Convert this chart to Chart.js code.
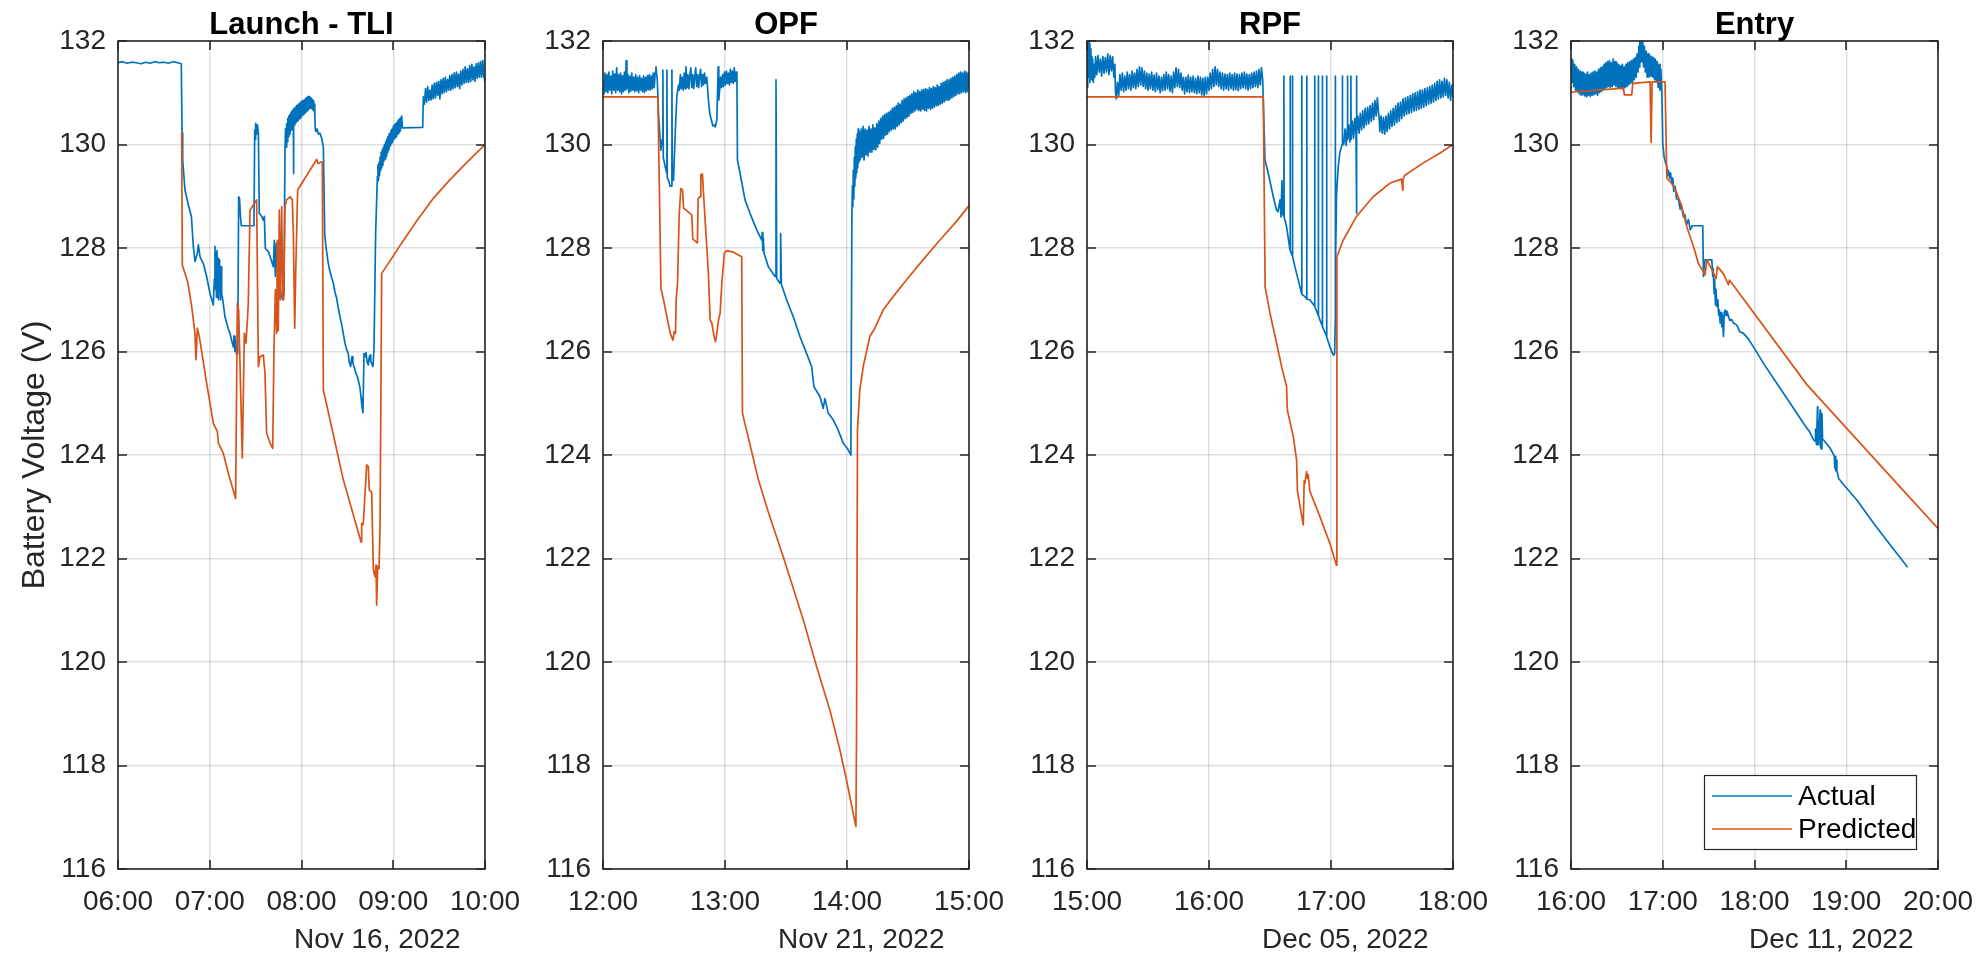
<!DOCTYPE html>
<html><head><meta charset="utf-8">
<script src="https://cdn.jsdelivr.net/npm/chart.js@4.4.1/dist/chart.umd.min.js"></script>
<style>
html,body{margin:0;padding:0;background:#fff;width:1988px;height:956px;overflow:hidden;position:relative;}
canvas{position:absolute;top:0;}
</style></head><body>
<canvas id="c0"></canvas><canvas id="c1"></canvas><canvas id="c2"></canvas><canvas id="c3"></canvas>
<script>
// ---------------- data ----------------
const panelTitles = ['Launch - TLI', 'OPF', 'RPF', 'Entry'];
const panelDates = ['Nov 16, 2022', 'Nov 21, 2022', 'Dec 05, 2022', 'Dec 11, 2022'];
const seriesNames = ['Actual', 'Predicted'];
const hourTicks = [[6,7,8,9,10],[12,13,14,15],[15,16,17,18],[16,17,18,19,20]];
const hourTickLabels = [
  ['06:00','07:00','08:00','09:00','10:00'],
  ['12:00','13:00','14:00','15:00'],
  ['15:00','16:00','17:00','18:00'],
  ['16:00','17:00','18:00','19:00','20:00']
];
const voltTicks = [116,118,120,122,124,126,128,130,132];

// [hour of day, volts]
const launchActual = [[6.00,131.58],[6.05,131.60],[6.10,131.57],[6.15,131.59],[6.20,131.58],[6.25,131.56],[6.30,131.59],[6.35,131.57],[6.40,131.60],[6.45,131.58],[6.50,131.59],[6.55,131.57],[6.60,131.60],[6.65,131.58],[6.69,131.56],
[6.698,130.22],[6.705,129.70],[6.73,129.12],[6.767,128.83],[6.80,128.61],[6.821,128.03],[6.839,127.74],[6.865,127.90],[6.876,128.06],[6.894,127.83],[6.93,127.70],[6.966,127.45],[7.003,127.12],[7.039,126.90],
[7.05,127.4],[7.057,128.03],[7.062,127.2],[7.068,127.9],[7.073,127.05],[7.079,127.95],[7.085,127.1],[7.090,127.8],[7.096,127.0],[7.101,127.77],[7.107,127.15],[7.112,127.6],[7.118,127.0],[7.123,127.64],[7.13,127.1],[7.137,127.06],
[7.166,126.67],[7.20,126.45],[7.221,126.35],[7.24,126.2],[7.257,126.09],[7.265,126.3],[7.275,126.0],[7.283,126.2],[7.293,125.93],[7.305,125.96],[7.315,128.99],[7.325,128.95],[7.335,128.6],[7.344,128.43],[7.482,128.43],[7.49,130.28],[7.495,130.1],[7.50,130.41],[7.51,130.2],[7.519,130.38],[7.53,130.22],[7.54,128.67],[7.566,128.61],[7.584,128.54],[7.595,128.61],[7.606,127.99],[7.639,127.93],[7.664,127.80],[7.693,127.64],[7.704,128.15],[7.715,127.45],[7.726,128.09],[7.74,127.51],[7.759,127.32],[7.777,127.12],[7.795,127.00],[7.809,127.12],
[7.82,129.89],[7.826,130.3],[7.832,129.95],[7.838,130.4],[7.844,130.05],[7.85,130.5],[7.856,130.15],[7.862,130.55],[7.868,130.2],[7.874,130.58],[7.88,130.25],[7.886,130.62],[7.892,130.28],[7.898,130.65],[7.904,130.3],[7.91,130.68],[7.913,129.44],[7.916,130.35],[7.922,130.7],[7.928,130.38],[7.934,130.72],[7.94,130.42],[7.946,130.75],[7.952,130.45],[7.958,130.76],[7.964,130.48],[7.97,130.78],[7.976,130.5],[7.982,130.8],[7.988,130.52],[7.994,130.82],[8.0,130.55],[8.006,130.84],[8.012,130.56],[8.018,130.85],[8.024,130.58],[8.03,130.86],[8.036,130.6],[8.042,130.88],[8.048,130.62],[8.054,130.9],[8.06,130.65],[8.066,130.92],[8.072,130.68],[8.078,130.93],[8.084,130.7],[8.09,130.92],[8.096,130.72],[8.102,130.9],[8.108,130.7],[8.114,130.88],[8.12,130.68],[8.126,130.85],[8.132,130.65],[8.138,130.78],[8.145,130.55],[8.151,130.28],[8.16,130.25],[8.17,130.3],[8.184,130.2],[8.20,130.22],[8.22,130.12],[8.238,129.96],
[8.253,128.28],[8.265,128.05],[8.28,127.85],[8.292,127.70],[8.31,127.55],[8.33,127.42],[8.347,127.32],[8.365,127.15],[8.383,127.03],[8.40,126.85],[8.42,126.67],[8.44,126.5],[8.455,126.35],[8.474,126.16],[8.49,126.05],[8.51,125.96],[8.52,125.8],[8.536,125.71],[8.545,125.85],[8.551,125.90],[8.56,125.78],[8.572,125.71],[8.59,125.6],[8.609,125.51],[8.625,125.4],[8.638,125.29],[8.65,125.1],[8.659,124.93],[8.67,124.82],[8.681,125.96],[8.69,125.9],[8.703,125.98],[8.715,125.8],[8.728,125.74],[8.737,125.88],[8.747,125.93],[8.755,125.8],[8.765,125.77],[8.779,125.71],[8.79,126.03],[8.808,128.28],
[8.827,129.38],[8.833,129.6],[8.839,129.3],[8.845,129.65],[8.851,129.4],[8.857,129.75],[8.863,129.5],[8.869,129.85],[8.875,129.55],[8.881,129.9],[8.887,129.6],[8.893,129.95],[8.899,129.68],[8.905,130.0],[8.911,129.72],[8.917,130.05],[8.923,129.78],[8.929,130.1],[8.935,129.85],[8.941,130.15],[8.947,129.9],[8.953,130.2],[8.959,129.95],[8.965,130.22],[8.971,129.98],[8.977,130.28],[8.983,130.02],[8.989,130.3],[8.995,130.05],[9.001,130.35],[9.007,130.1],[9.013,130.38],[9.019,130.12],[9.025,130.4],[9.031,130.15],[9.037,130.42],[9.043,130.2],[9.049,130.45],[9.055,130.22],[9.061,130.48],[9.067,130.25],[9.073,130.5],[9.079,130.28],[9.085,130.52],[9.092,130.55],[9.100,130.32],[9.321,130.33],
[9.328,130.92],[9.34,130.78],[9.352,131.08],[9.364,130.82],[9.376,131.12],[9.388,130.85],[9.40,131.05],[9.412,130.86],[9.424,131.15],[9.436,130.88],[9.448,131.18],[9.46,130.9],[9.472,131.2],[9.484,130.95],[9.496,131.22],[9.508,130.88],[9.52,131.25],[9.532,130.98],[9.544,131.28],[9.556,131.0],[9.568,131.3],[9.58,131.02],[9.592,131.26],[9.604,131.05],[9.616,131.33],[9.628,131.05],[9.64,131.35],[9.652,131.08],[9.664,131.38],[9.676,131.1],[9.688,131.4],[9.70,131.12],[9.712,131.36],[9.724,131.08],[9.736,131.42],[9.748,131.15],[9.76,131.45],[9.772,131.18],[9.784,131.5],[9.796,131.2],[9.808,131.46],[9.82,131.2],[9.832,131.52],[9.844,131.22],[9.856,131.55],[9.868,131.25],[9.88,131.5],[9.892,131.22],[9.904,131.56],[9.916,131.28],[9.928,131.58],[9.94,131.3],[9.952,131.6],[9.964,131.3],[9.976,131.62],[9.988,131.32],[10.0,131.2]];

const launchPredicted = [[6.694,130.23],[6.701,127.67],[6.759,127.35],[6.803,126.87],[6.839,126.35],[6.850,125.84],[6.865,126.45],[6.886,126.29],[6.966,125.39],[7.039,124.61],[7.083,124.45],[7.094,124.23],[7.148,124.03],[7.21,123.6],[7.282,123.16],[7.301,126.93],[7.315,126.8],[7.355,123.94],[7.377,126.35],[7.395,126.16],[7.41,126.6],[7.42,126.93],[7.439,128.73],[7.511,128.93],[7.53,125.71],[7.548,125.9],[7.584,125.93],[7.602,125.58],[7.62,124.42],[7.657,124.23],[7.686,124.13],[7.70,126.03],[7.715,127.19],[7.729,126.35],[7.737,128.15],[7.747,126.4],[7.758,128.73],[7.769,127.0],[7.784,128.8],[7.795,127.06],[7.806,127.0],[7.82,128.8],[7.838,128.93],[7.875,128.99],[7.9,128.93],[7.911,128.3],[7.926,126.45],[7.936,127.45],[7.958,129.12],[8.165,129.71],[8.183,129.63],[8.209,129.66],[8.227,129.66],[8.238,125.26],[8.456,123.52],[8.649,122.32],[8.656,122.68],[8.667,122.65],[8.674,122.68],[8.71,123.81],[8.728,123.78],[8.739,123.32],[8.765,123.28],[8.783,121.78],[8.801,121.65],[8.812,121.87],[8.819,121.10],[8.830,121.84],[8.845,121.80],[8.856,122.6],[8.874,127.51],[8.983,127.80],[9.074,128.05],[9.255,128.52],[9.437,128.96],[9.619,129.32],[9.80,129.65],[10.0,130.0]];

const opfActual = [[12.000,131.25],[12.008,130.98],[12.016,131.38],[12.024,131.02],[12.032,131.35],[12.04,131.0],[12.048,131.4],[12.056,131.05],[12.064,131.32],[12.072,130.98],[12.08,131.42],[12.088,131.05],[12.096,131.36],[12.104,131.0],[12.112,131.48],[12.12,131.05],[12.128,131.35],[12.136,131.02],[12.144,131.38],[12.152,130.98],[12.16,131.33],[12.168,131.02],[12.176,131.4],[12.184,131.05],[12.19,131.62],[12.196,131.08],[12.204,131.35],[12.212,131.0],[12.22,131.32],[12.228,131.03],[12.236,131.38],[12.244,131.05],[12.252,131.3],[12.26,131.02],[12.268,131.35],[12.276,131.04],[12.284,131.3],[12.292,131.0],[12.30,131.33],[12.308,131.05],[12.316,131.28],[12.324,131.02],[12.332,131.32],[12.34,131.0],[12.348,131.3],[12.356,131.04],[12.364,131.33],[12.372,131.06],[12.38,131.35],[12.388,131.05],[12.396,131.32],[12.404,131.08],[12.412,131.38],[12.42,131.1],[12.428,131.4],
[12.434,131.5],[12.445,131.25],[12.455,130.6],[12.474,129.89],[12.485,130.1],[12.491,131.44],[12.494,129.75],[12.51,129.57],[12.522,129.45],[12.524,131.44],[12.527,129.35],[12.537,129.31],[12.551,129.19],[12.562,129.2],[12.565,131.44],[12.568,129.3],[12.578,129.31],[12.592,130.22],[12.605,130.92],[12.619,131.15],
[12.626,131.05],[12.634,131.35],[12.642,131.08],[12.65,131.3],[12.658,131.05],[12.666,131.38],[12.674,131.08],[12.68,131.5],[12.688,131.1],[12.696,131.35],[12.704,131.08],[12.712,131.32],[12.72,131.48],[12.728,131.1],[12.736,131.35],[12.744,131.08],[12.752,131.3],[12.76,131.48],[12.768,131.12],[12.776,131.35],[12.784,131.1],[12.792,131.32],[12.80,131.45],[12.808,131.12],[12.816,131.35],[12.824,131.15],[12.832,131.38],[12.84,131.18],[12.851,131.3],
[12.864,130.86],[12.875,130.6],[12.892,130.44],[12.90,130.36],[12.911,130.38],[12.92,130.34],[12.933,130.47],[12.944,131.5],[12.949,130.86],
[12.956,131.05],[12.964,131.3],[12.972,131.1],[12.98,131.35],[12.988,131.12],[12.996,131.4],[13.004,131.15],[13.012,131.42],[13.02,131.18],[13.028,131.38],[13.036,131.15],[13.044,131.45],[13.052,131.2],[13.06,131.42],[13.068,131.18],[13.076,131.48],[13.084,131.22],[13.092,131.4],[13.098,131.2],[13.102,129.70],
[13.124,129.44],[13.164,128.93],[13.205,128.67],[13.26,128.35],[13.301,128.15],[13.305,128.3],[13.31,127.95],[13.314,128.2],[13.32,127.9],[13.355,127.64],[13.41,127.45],[13.418,131.25],[13.424,127.41],[13.451,127.32],[13.456,128.28],[13.462,127.3],[13.505,127.0],[13.56,126.67],[13.614,126.29],[13.669,125.96],[13.71,125.71],[13.72,125.5],[13.729,125.32],[13.778,125.13],[13.805,124.90],[13.819,125.09],[13.846,124.81],[13.887,124.68],[13.928,124.48],[13.969,124.23],[14.01,124.10],[14.032,124.0],
[14.040,128.61],[14.044,129.2],[14.048,128.8],[14.052,129.5],[14.056,128.95],[14.06,129.75],[14.064,129.2],[14.068,129.95],[14.072,129.35],[14.076,130.1],[14.08,129.45],[14.084,130.2],[14.088,129.55],[14.092,130.3],[14.096,129.65],[14.10,130.25],[14.108,129.7],[14.116,130.3],[14.124,129.75],[14.132,130.35],[14.14,129.7],[14.148,130.3],[14.156,129.8],[14.164,130.28],[14.172,129.78],[14.18,130.35],[14.188,129.85],[14.196,130.3],[14.204,129.85],[14.212,130.38],[14.22,129.9],[14.228,130.32],[14.236,129.9],[14.244,130.4],[14.252,129.95],[14.26,130.45],[14.268,130.02],[14.276,130.5],[14.284,130.1],[14.292,130.55],[14.30,130.12],[14.308,130.58],[14.316,130.18],[14.324,130.6],[14.332,130.2],[14.34,130.62],[14.348,130.25],[14.356,130.65],[14.364,130.28],[14.372,130.7],[14.38,130.3],[14.388,130.72],[14.396,130.3],[14.404,130.75],[14.412,130.35],[14.42,130.8],[14.428,130.38],[14.436,130.78],[14.444,130.42],[14.452,130.85],[14.46,130.45],[14.468,130.88],[14.476,130.5],[14.484,130.9],[14.492,130.52],[14.50,130.92],[14.508,130.55],[14.516,130.95],[14.524,130.6],[14.532,130.98],[14.54,130.62],[14.548,131.02],[14.556,130.65],[14.564,131.0],[14.572,130.68],[14.58,131.05],[14.588,130.66],[14.596,131.02],[14.604,130.65],[14.612,131.05],[14.62,130.68],[14.628,131.06],[14.636,130.66],[14.644,131.08],[14.652,130.65],[14.66,131.06],[14.668,130.7],[14.676,131.1],[14.684,130.68],[14.692,131.08],[14.70,130.7],[14.708,131.12],[14.716,130.72],[14.724,131.1],[14.732,130.75],[14.74,131.15],[14.748,130.75],[14.756,131.12],[14.764,130.78],[14.772,131.18],[14.78,130.8],[14.788,131.2],[14.796,130.82],[14.804,131.22],[14.812,130.85],[14.82,131.25],[14.828,130.86],[14.836,131.25],[14.844,130.88],[14.852,131.28],[14.86,130.9],[14.868,131.3],[14.876,130.93],[14.884,131.32],[14.892,130.95],[14.90,131.35],[14.908,130.98],[14.916,131.38],[14.924,130.98],[14.932,131.4],[14.94,131.0],[14.948,131.38],[14.956,131.02],[14.964,131.42],[14.972,131.0],[14.98,131.4],[14.988,131.02],[14.996,131.38],[15.0,131.1]];

const opfPredicted = [[12.0,130.92],[12.45,130.92],[12.475,127.22],[12.496,127.0],[12.551,126.35],[12.573,126.22],[12.584,126.38],[12.594,126.35],[12.60,127.0],[12.611,127.32],[12.624,128.61],[12.638,129.15],[12.652,129.12],[12.66,128.77],[12.728,128.64],[12.736,128.17],[12.774,128.10],[12.78,128.96],[12.796,128.99],[12.802,129.41],[12.815,129.43],[12.824,129.05],[12.837,128.54],[12.864,127.51],[12.878,126.61],[12.892,126.55],[12.911,126.29],[12.922,126.19],[12.933,126.35],[12.946,126.6],[12.96,126.74],[12.974,127.32],[12.995,127.90],[13.014,127.95],[13.069,127.92],[13.137,127.83],[13.143,124.81],[13.274,123.52],[13.355,122.90],[13.478,122.03],[13.642,120.81],[13.751,119.91],[13.86,119.07],[13.942,118.30],[13.996,117.72],[14.073,116.82],[14.078,118.5],[14.086,124.48],[14.105,125.26],[14.133,125.71],[14.187,126.29],[14.228,126.45],[14.296,126.80],[14.378,127.06],[14.487,127.38],[14.623,127.77],[14.76,128.15],[14.896,128.51],[15.0,128.82]];

const rpfActual = [[15.000,131.1],[15.004,131.9],[15.008,131.25],[15.012,132.1],[15.016,131.3],[15.02,131.95],[15.024,131.2],[15.028,131.85],[15.032,131.3],[15.036,131.7],[15.04,131.25],[15.046,131.65],[15.052,131.2],[15.058,131.55],[15.064,131.3],[15.07,131.7],[15.08,131.35],[15.09,131.72],[15.10,131.4],[15.11,131.65],[15.12,131.32],[15.13,131.7],[15.14,131.38],[15.15,131.68],[15.16,131.4],[15.17,131.75],[15.18,131.35],[15.19,131.72],[15.20,131.42],[15.21,131.7],[15.22,131.3],[15.228,131.55],[15.234,131.0],[15.24,130.88],[15.25,131.2],[15.26,130.95],
[15.27,131.35],[15.28,131.05],[15.29,131.38],[15.30,131.02],[15.31,131.32],[15.32,131.05],[15.33,131.4],[15.34,131.08],[15.35,131.35],[15.36,131.05],[15.37,131.42],[15.38,131.1],[15.39,131.38],[15.40,131.08],[15.41,131.45],[15.42,131.12],[15.43,131.5],[15.44,131.15],[15.45,131.48],[15.46,131.12],[15.47,131.42],[15.48,131.08],[15.49,131.38],[15.50,131.05],[15.51,131.36],[15.52,131.08],[15.53,131.4],[15.54,131.05],[15.55,131.34],[15.56,131.02],[15.57,131.38],[15.58,131.06],[15.59,131.32],[15.60,131.0],[15.61,131.3],[15.62,131.04],[15.63,131.35],[15.64,131.05],[15.65,131.4],[15.66,131.08],[15.67,131.35],[15.68,131.03],[15.69,131.32],[15.70,131.0],[15.71,131.4],[15.72,131.1],[15.73,131.48],[15.74,131.12],[15.75,131.45],[15.76,131.1],[15.77,131.38],[15.78,131.05],[15.79,131.3],[15.80,130.98],[15.81,131.3],[15.82,131.02],[15.83,131.34],[15.84,131.0],[15.85,131.3],[15.86,131.02],[15.87,131.32],[15.88,131.0],[15.89,131.28],[15.90,130.98],[15.91,131.32],[15.92,131.0],[15.93,131.3],[15.94,130.96],[15.95,131.28],[15.96,130.95],[15.97,131.3],[15.98,130.98],[15.99,131.3],[16.00,131.05],[16.01,131.38],[16.02,131.08],[16.03,131.45],[16.04,131.12],[16.05,131.5],[16.06,131.15],[16.07,131.45],[16.08,131.12],[16.09,131.4],[16.10,131.08],[16.11,131.38],[16.12,131.05],[16.13,131.36],[16.14,131.08],[16.15,131.35],[16.16,131.05],[16.17,131.38],[16.18,131.08],[16.19,131.35],[16.20,131.05],[16.21,131.38],[16.22,131.06],[16.23,131.36],[16.24,131.04],[16.25,131.35],[16.26,131.08],[16.27,131.38],[16.28,131.1],[16.29,131.4],[16.30,131.08],[16.31,131.36],[16.32,131.05],[16.33,131.35],[16.34,131.08],[16.35,131.38],[16.36,131.1],[16.37,131.4],[16.38,131.12],[16.39,131.42],[16.40,131.1],[16.41,131.45],[16.42,131.15],[16.43,131.48],[16.44,131.25],
[16.459,129.70],[16.486,129.44],[16.527,128.99],[16.554,128.73],[16.565,128.7],[16.582,128.93],[16.59,128.6],[16.598,129.3],[16.605,128.65],[16.612,128.62],[16.614,131.32],[16.616,128.6],[16.636,128.41],[16.664,127.96],[16.665,131.32],[16.667,127.95],[16.683,127.85],[16.684,131.32],[16.686,127.84],[16.704,127.64],[16.732,127.38],[16.759,127.12],[16.76,131.32],[16.762,127.11],[16.786,127.06],[16.80,127.02],[16.801,131.32],[16.803,127.01],[16.827,127.0],[16.865,126.88],[16.866,131.32],[16.868,126.87],[16.895,126.7],[16.896,131.32],[16.898,126.7],[16.909,126.61],[16.928,126.5],[16.929,131.32],[16.931,126.48],[16.963,126.3],[16.964,131.32],[16.966,126.28],[16.991,126.09],[17.013,125.96],[17.023,125.93],[17.030,125.96],[17.034,126.5],[17.035,131.32],[17.037,127.5],[17.045,129.0],[17.059,129.57],[17.073,129.85],[17.092,130.0],[17.093,131.32],[17.095,130.0],
[17.105,130.0],[17.115,130.3],[17.125,129.98],[17.134,130.32],[17.135,131.32],[17.137,130.1],[17.145,130.38],[17.155,130.05],[17.162,130.4],[17.163,131.32],[17.165,130.1],[17.175,130.45],[17.185,130.12],[17.195,130.5],[17.205,130.18],[17.208,131.32],[17.210,128.67],[17.212,130.2],[17.22,130.55],[17.23,130.22],[17.24,130.6],[17.25,130.28],[17.26,130.65],[17.27,130.32],[17.28,130.7],[17.29,130.38],[17.30,130.72],[17.31,130.4],[17.32,130.75],[17.33,130.45],[17.34,130.8],[17.35,130.48],[17.36,130.85],[17.37,130.55],[17.38,130.9],[17.39,130.6],[17.395,130.5],[17.40,130.25],[17.41,130.55],[17.42,130.22],[17.43,130.52],[17.44,130.2],[17.45,130.55],[17.46,130.25],[17.47,130.6],[17.48,130.3],[17.49,130.65],[17.50,130.35],[17.51,130.7],[17.52,130.38],[17.53,130.75],[17.54,130.42],[17.55,130.8],[17.56,130.45],[17.57,130.82],[17.58,130.5],[17.59,130.88],[17.60,130.55],[17.61,130.9],[17.62,130.58],[17.63,130.92],[17.64,130.6],[17.65,130.95],[17.66,130.62],[17.67,130.98],[17.68,130.65],[17.69,131.0],[17.70,130.66],[17.71,131.02],[17.72,130.68],[17.73,131.05],[17.74,130.7],[17.75,131.05],[17.76,130.72],[17.77,131.08],[17.78,130.75],[17.79,131.1],[17.80,130.78],[17.81,131.12],[17.82,130.8],[17.83,131.15],[17.84,130.82],[17.85,131.18],[17.86,130.85],[17.87,131.22],[17.88,130.88],[17.89,131.25],[17.90,130.9],[17.91,131.22],[17.92,130.92],[17.93,131.28],[17.94,130.95],[17.95,131.25],[17.96,130.9],[17.97,131.2],[17.98,130.85],[17.99,131.15],[18.00,130.9]];

const rpfPredicted = [[15.0,130.92],[16.445,130.92],[16.46,127.25],[16.5,126.74],[16.554,126.16],[16.595,125.71],[16.636,125.32],[16.642,124.87],[16.691,124.35],[16.718,123.9],[16.725,123.3],[16.773,122.65],[16.78,123.5],[16.786,123.45],[16.8,123.68],[16.805,123.55],[16.813,123.62],[16.827,123.3],[16.909,122.81],[16.991,122.29],[17.045,121.87],[17.048,127.83],[17.1,128.15],[17.209,128.61],[17.345,128.99],[17.482,129.25],[17.577,129.33],[17.588,129.12],[17.59,129.32],[17.604,129.4],[17.754,129.64],[17.891,129.83],[18.0,130.0]];

const entryActual = [[16.00,131.65],[16.01,131.2],[16.02,131.62],[16.03,131.12],[16.04,131.55],[16.05,131.05],[16.06,131.5],[16.07,131.02],[16.08,131.45],[16.09,130.98],[16.10,131.42],[16.11,130.95],[16.12,131.4],[16.13,130.96],[16.14,131.38],[16.15,130.94],[16.16,131.36],[16.17,130.92],[16.18,131.4],[16.19,130.95],[16.20,131.35],[16.21,130.93],[16.22,131.38],[16.23,130.95],[16.24,131.4],[16.25,130.96],[16.26,131.42],[16.27,130.98],[16.28,131.4],[16.29,130.95],[16.30,131.45],[16.31,131.0],[16.32,131.48],[16.33,131.02],[16.34,131.5],[16.35,131.05],[16.36,131.55],[16.37,131.08],[16.38,131.58],[16.39,131.1],[16.40,131.6],[16.41,131.12],[16.42,131.62],[16.43,131.1],[16.44,131.58],[16.45,131.12],[16.46,131.65],[16.47,131.15],[16.48,131.6],[16.49,131.12],[16.50,131.58],[16.51,131.1],[16.52,131.55],[16.53,131.08],[16.54,131.52],[16.55,131.1],[16.56,131.55],[16.57,131.05],[16.58,131.5],[16.59,131.1],[16.60,131.55],[16.61,131.12],[16.62,131.58],[16.63,131.15],[16.64,131.6],[16.65,131.18],[16.66,131.62],[16.67,131.2],[16.68,131.65],[16.69,131.25],[16.70,131.68],[16.71,131.3],[16.72,131.75],[16.73,131.4],[16.74,131.9],[16.745,131.5],[16.75,132.3],[16.755,131.6],[16.76,132.2],[16.765,131.7],[16.77,132.3],[16.775,131.6],[16.78,132.1],[16.79,131.5],[16.80,131.9],[16.81,131.4],[16.82,131.8],[16.83,131.3],[16.84,131.75],[16.85,131.3],[16.86,131.72],[16.87,131.32],[16.88,131.7],[16.89,131.3],[16.90,131.68],[16.91,131.25],[16.92,131.65],[16.93,131.2],[16.94,131.6],[16.95,131.1],[16.96,131.55],[16.97,131.05],[16.98,131.45],[16.99,131.0],
[17.0,130.02],[17.015,129.76],[17.03,129.65],[17.044,129.57],[17.055,129.4],[17.062,129.5],[17.075,129.35],[17.085,129.45],[17.098,129.25],[17.11,129.35],[17.12,129.1],[17.135,129.19],[17.15,128.95],[17.171,128.93],[17.19,128.75],[17.2,128.85],[17.225,128.6],[17.24,128.65],[17.26,128.45],[17.28,128.55],[17.30,128.35],[17.316,128.41],[17.318,128.43],[17.436,128.43],[17.444,127.45],[17.45,127.6],[17.462,127.77],[17.535,127.77],[17.545,127.45],[17.55,127.6],[17.56,127.12],[17.565,127.4],[17.575,126.9],[17.58,127.2],[17.589,126.87],[17.6,127.0],[17.61,126.7],[17.618,126.8],[17.625,126.55],[17.635,126.75],[17.644,126.48],[17.65,126.7],[17.662,126.29],[17.67,126.75],[17.68,126.8],[17.69,126.7],[17.70,126.78],[17.716,126.68],[17.73,126.6],[17.75,126.62],[17.771,126.55],[17.807,126.51],[17.84,126.38],[17.88,126.35],[17.93,126.25],[17.989,126.09],[18.098,125.77],[18.244,125.38],[18.389,125.0],[18.535,124.61],[18.60,124.45],[18.644,124.29],[18.662,124.27],[18.665,124.5],[18.675,124.2],[18.687,124.93],[18.69,124.2],[18.698,124.2],[18.705,124.5],[18.716,124.87],[18.72,124.15],[18.727,124.12],[18.735,124.8],[18.742,124.3],[18.753,124.29],[18.825,124.13],[18.87,123.98],[18.875,123.75],[18.88,123.97],[18.885,123.7],[18.89,123.9],[18.898,123.7],[18.916,123.55],[18.96,123.45],[19.116,123.13],[19.298,122.68],[19.48,122.26],[19.669,121.83]];

const entryPredicted = [[16.0,131.01],[16.571,131.09],[16.582,130.96],[16.662,130.96],[16.673,131.18],[16.862,131.21],[16.873,130.04],[16.884,131.21],[17.025,131.21],[17.044,129.35],[17.098,129.25],[17.153,129.06],[17.207,128.80],[17.262,128.41],[17.335,128.03],[17.389,127.70],[17.462,127.48],[17.48,127.77],[17.535,127.58],[17.582,127.41],[17.596,127.64],[17.662,127.5],[17.716,127.29],[17.727,127.38],[18.571,125.36],[19.516,123.52],[20.0,122.58]];

const panelSeries = [
  [launchActual, launchPredicted],
  [opfActual, opfPredicted],
  [rpfActual, rpfPredicted],
  [entryActual, entryPredicted]
];

// ---------------- layout / style ----------------
const FONT = '"Liberation Sans", Arial, Helvetica, sans-serif';
const plotLeft = [118, 603, 1087, 1571];
const plotRight = [485, 969, 1453, 1938];
const PLOT_TOP = 41, PLOT_BOTTOM = 869, H = 956;
const Y_AXIS_W = 118, RIGHT_PAD = 60;
const COLORS = ['#0072BD', '#D95319'];
const AXIS = '#262626';

function decor(i) {
  return {
    id: 'decor' + i,
    afterDraw(chart) {
      const ctx = chart.ctx, a = chart.chartArea, xs = chart.scales.x, ys = chart.scales.y;
      ctx.save();
      ctx.strokeStyle = AXIS; ctx.lineWidth = 1.6;
      ctx.strokeRect(a.left, a.top, a.right - a.left, a.bottom - a.top);
      ctx.beginPath();
      xs.ticks.forEach(t => {
        const px = Math.round(xs.getPixelForValue(t.value));
        ctx.moveTo(px, a.bottom); ctx.lineTo(px, a.bottom - 9);
        ctx.moveTo(px, a.top); ctx.lineTo(px, a.top + 9);
      });
      ys.ticks.forEach(t => {
        const py = Math.round(ys.getPixelForValue(t.value));
        ctx.moveTo(a.left, py); ctx.lineTo(a.left + 9, py);
        ctx.moveTo(a.right, py); ctx.lineTo(a.right - 9, py);
      });
      ctx.stroke();
      ctx.fillStyle = '#000'; ctx.font = 'bold 31px ' + FONT;
      ctx.textAlign = 'center'; ctx.textBaseline = 'alphabetic';
      ctx.fillText(panelTitles[i], (a.left + a.right) / 2, a.top - 7.5);
      ctx.fillStyle = AXIS; ctx.font = '28px ' + FONT; ctx.textAlign = 'right';
      ctx.fillText(panelDates[i], a.right - 24.5, a.bottom + 79);
      if (i === 0) {
        ctx.save();
        ctx.translate(a.left - 74.5, (a.top + a.bottom) / 2);
        ctx.rotate(-Math.PI / 2);
        ctx.font = '32px ' + FONT; ctx.textAlign = 'center'; ctx.textBaseline = 'alphabetic';
        ctx.fillText('Battery Voltage (V)', 0, 0);
        ctx.restore();
      }
      if (i === 3) {
        const bw = 212, bh = 74;
        const bx = a.right - 22 - bw, by = a.bottom - 20 - bh;
        ctx.fillStyle = '#fff'; ctx.fillRect(bx, by, bw, bh);
        ctx.strokeStyle = AXIS; ctx.lineWidth = 1.2; ctx.strokeRect(bx + 0.5, by + 0.5, bw, bh);
        const rows = [by + 21, by + 54];
        ctx.font = '28px ' + FONT; ctx.textAlign = 'left'; ctx.textBaseline = 'middle';
        seriesNames.forEach((n, k) => {
          ctx.strokeStyle = COLORS[k]; ctx.lineWidth = 1.7;
          ctx.beginPath(); ctx.moveTo(bx + 8, rows[k]); ctx.lineTo(bx + 88, rows[k]); ctx.stroke();
          ctx.fillStyle = '#000'; ctx.fillText(n, bx + 94, rows[k] + 1);
        });
      }
      ctx.restore();
    }
  };
}

for (let i = 0; i < 4; i++) {
  const cv = document.getElementById('c' + i);
  const W = (plotRight[i] - plotLeft[i]) + Y_AXIS_W + RIGHT_PAD;
  cv.width = W; cv.height = H;
  cv.style.left = (plotLeft[i] - Y_AXIS_W) + 'px';
  cv.style.width = W + 'px'; cv.style.height = H + 'px';
  const ticksH = hourTicks[i];
  new Chart(cv, {
    type: 'line',
    data: {
      datasets: panelSeries[i].map((s, k) => ({
        label: seriesNames[k],
        data: s.map(p => ({ x: p[0], y: p[1] })),
        borderColor: COLORS[k], backgroundColor: COLORS[k],
        borderWidth: 1.7, pointRadius: 0, fill: false, tension: 0,
        borderJoinStyle: 'round', order: k === 0 ? 1 : 0
      }))
    },
    options: {
      responsive: false, animation: false, devicePixelRatio: 1,
      layout: { padding: { left: 0, right: RIGHT_PAD, top: PLOT_TOP, bottom: 0 } },
      plugins: { legend: { display: false }, tooltip: { enabled: false }, title: { display: false } },
      events: [],
      scales: {
        x: {
          type: 'linear', min: ticksH[0], max: ticksH[ticksH.length - 1],
          afterBuildTicks: s => { s.ticks = ticksH.map(v => ({ value: v })); },
          ticks: {
            callback: (v) => hourTickLabels[i][ticksH.indexOf(v)],
            font: { family: FONT, size: 28 }, color: AXIS, padding: 16,
            maxRotation: 0, minRotation: 0, autoSkip: false
          },
          grid: { color: 'rgba(38,38,38,0.15)', lineWidth: 1.5, drawTicks: false },
          border: { display: false },
          afterFit: s => { s.height = H - PLOT_BOTTOM; }
        },
        y: {
          type: 'linear', min: voltTicks[0], max: voltTicks[voltTicks.length - 1],
          afterBuildTicks: s => { s.ticks = voltTicks.map(v => ({ value: v })); },
          ticks: { font: { family: FONT, size: 28 }, color: AXIS, padding: 12, callback: v => String(v) },
          grid: { color: 'rgba(38,38,38,0.15)', lineWidth: 1.5, drawTicks: false },
          border: { display: false },
          afterFit: s => { s.width = Y_AXIS_W; }
        }
      }
    },
    plugins: [decor(i)]
  });
}
</script>
</body></html>
